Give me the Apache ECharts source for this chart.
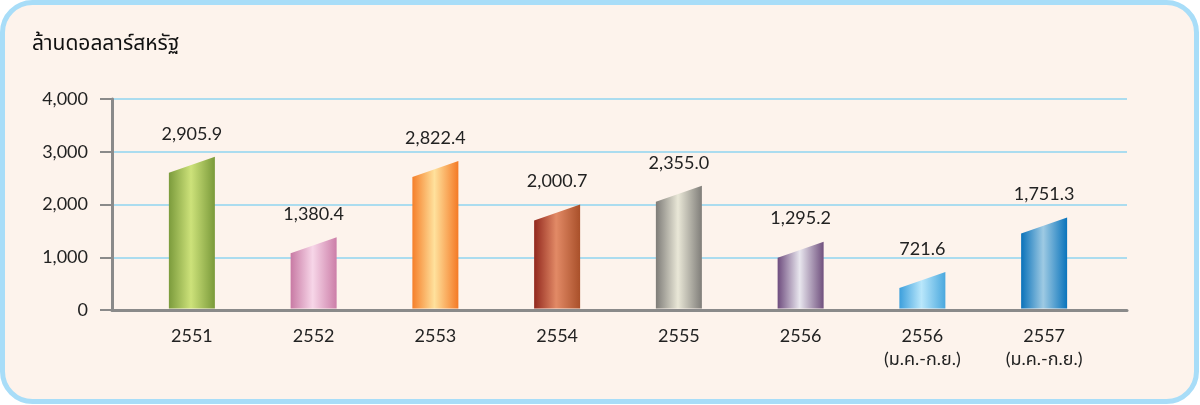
<!DOCTYPE html>
<html>
<head>
<meta charset="utf-8">
<script src="https://cdn.jsdelivr.net/npm/echarts@6/dist/echarts.min.js"></script>
<style>
  html, body { margin: 0; padding: 0; background: #ffffff; }
  #chart { width: 1200px; height: 405px; }
</style>
</head>
<body>
<div id="chart"></div>
<script>
// ข้อมูล
const categories = ["2551", "2552", "2553", "2554", "2555", "2556", "2556\n(ม.ค.-ก.ย.)", "2557\n(ม.ค.-ก.ย.)"];
const values = [2905.9, 1380.4, 2822.4, 2000.7, 2355.0, 1295.2, 721.6, 1751.3];
const yTicks = [0, 1000, 2000, 3000, 4000];
const unitLabel = "ล้านดอลลาร์สหรัฐ";

// สีไล่เฉดของแต่ละแท่ง (ซ้าย -> กลาง -> ขวา)
const barColors = [
  ["#7b9b3c", "#cde27a", "#7a9a3a"],
  ["#c87aa4", "#f7d6e8", "#cc7ea8"],
  ["#f57f2a", "#ffe19c", "#f47a26"],
  ["#92281e", "#e28a66", "#a9502a"],
  ["#7e7c78", "#e9e7d7", "#7f7d79"],
  ["#6e4c7e", "#e8e6ee", "#70507e"],
  ["#3c9fdc", "#b9e7fb", "#4aa8de"],
  ["#0a72ba", "#9ecae3", "#0a74bc"]
];

const FONT = "Lato, 'Noto Sans Thai', 'Noto Sans', sans-serif";
const chart = echarts.init(document.getElementById("chart"));

function fmt(v) {
  return v.toLocaleString("en-US", { minimumFractionDigits: 1, maximumFractionDigits: 1 });
}

chart.setOption({
  animation: false,
  graphic: [
    {
      type: "rect",
      z: -10,
      shape: { x: 2.5, y: 2.5, width: 1194, height: 399, r: 30 },
      style: { fill: "#fdf3ec", stroke: "#a8ddf8", lineWidth: 5 }
    },
    {
      type: "text",
      left: 32,
      top: 33,
      style: { text: unitLabel, font: "21px " + FONT, fill: "#111" }
    }
  ],
  grid: [
    { left: 112, right: 73, top: 99, bottom: 95 },
    { left: 131, width: 974, top: 99, bottom: 95 }
  ],
  xAxis: [
    {
      type: "category",
      gridIndex: 0,
      data: categories,
      axisLine: { lineStyle: { color: "#8a8a8a", width: 3 } },
      axisTick: { show: false },
      axisLabel: { show: false }
    },
    {
      type: "category",
      gridIndex: 1,
      data: categories,
      axisLine: { show: false },
      axisTick: { show: false },
      axisLabel: {
        margin: 15,
        fontSize: 18,
        lineHeight: 23,
        color: "#222",
        fontFamily: FONT,
        interval: 0
      }
    }
  ],
  yAxis: [
    {
      type: "value",
      gridIndex: 0,
      min: yTicks[0],
      max: yTicks[yTicks.length - 1],
      interval: 1000,
      axisLine: { show: true, lineStyle: { color: "#8a8a8a", width: 3 } },
      axisTick: { show: true, length: 12, lineStyle: { color: "#8a8a8a", width: 2 } },
      axisLabel: {
        margin: 24,
        fontSize: 18,
        color: "#222",
        fontFamily: FONT,
        formatter: v => v.toLocaleString("en-US")
      },
      splitLine: { lineStyle: { color: "#8fd4f0", width: 1.5 } }
    },
    {
      type: "value",
      gridIndex: 1,
      min: yTicks[0],
      max: yTicks[yTicks.length - 1],
      show: false
    }
  ],
  series: [
    {
      type: "custom",
      xAxisIndex: 1,
      yAxisIndex: 1,
      data: values.map((v, i) => [i, v]),
      renderItem: function (params, api) {
        const i = api.value(0);
        const top = api.coord([i, api.value(1)]);
        const base = api.coord([i, 0]);
        const half = 23;
        const slant = 16;
        const c = barColors[i];
        return {
          type: "group",
          children: [
            {
              type: "polygon",
              shape: {
                points: [
                  [top[0] - half, base[1] - 1.5],
                  [top[0] - half, top[1] + slant],
                  [top[0] + half, top[1]],
                  [top[0] + half, base[1] - 1.5]
                ]
              },
              style: {
                fill: new echarts.graphic.LinearGradient(0, 0, 1, 0, [
                  { offset: 0, color: c[0] },
                  { offset: 0.48, color: c[1] },
                  { offset: 1, color: c[2] }
                ])
              }
            },
            {
              type: "text",
              style: {
                text: fmt(api.value(1)),
                x: top[0],
                y: top[1] - 23,
                align: "center",
                verticalAlign: "middle",
                font: "18px " + FONT,
                fill: "#222"
              }
            }
          ]
        };
      }
    }
  ]
});
</script>
</body>
</html>
